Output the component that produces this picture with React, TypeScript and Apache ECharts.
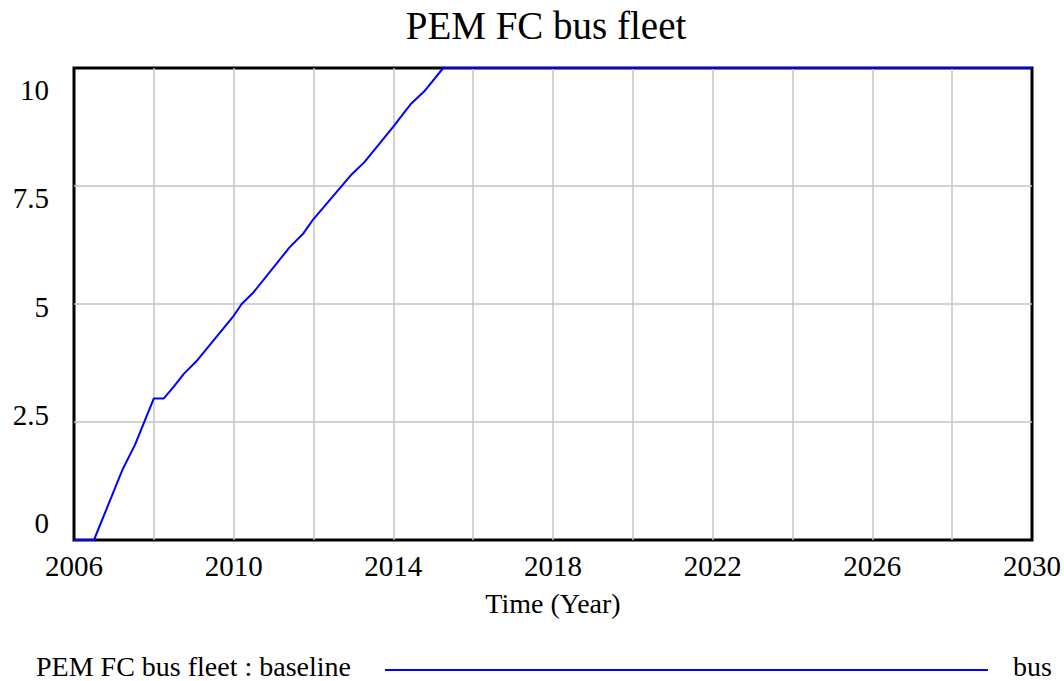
import React, { useEffect, useRef } from "react";
import * as echarts from "echarts";

const titleText = "PEM FC bus fleet";
const seriesName = "PEM FC bus fleet : baseline";
const unitText = "bus";
const xAxisName = "Time (Year)";

const years = [2006, 2006.5, 2007.22, 2007.53, 2008, 2008.25, 2008.5, 2008.75, 2009.06, 2010, 2010.2, 2010.5, 2011.4, 2011.75, 2012, 2012.96, 2013.27, 2014, 2014.45, 2014.77, 2015.25, 2030];
const fleet = [0, 0, 1.5, 2.02, 3, 3, 3.25, 3.52, 3.78, 4.75, 5, 5.25, 6.2, 6.5, 6.8, 7.75, 8, 8.76, 9.25, 9.5, 10, 10];

const yTickValues = [0, 2.5, 5, 7.5, 10];
const xLabelValues = [2006, 2010, 2014, 2018, 2022, 2026, 2030];

const FONT = "'Liberation Serif', 'Times New Roman', serif";

export default function App() {
  const ref = useRef<HTMLDivElement>(null);
  useEffect(() => {
    if (!ref.current) return;
    const chart = echarts.init(ref.current, undefined, { renderer: "svg" });
    const data = years.map((y, i) => [y, fleet[i]]);
    chart.setOption({
      animation: false,
      backgroundColor: "#ffffff",
      title: {
        text: titleText,
        left: 541,
        top: 1,
        textAlign: "center",
        textStyle: { fontFamily: FONT, fontSize: 39, fontWeight: "normal", color: "#000" },
      },
      grid: {
        left: 74,
        top: 68,
        right: 31.5,
        bottom: 141,
        show: true,
        borderColor: "#000",
        borderWidth: 3,
        backgroundColor: "transparent",
      },
      xAxis: {
        type: "value",
        min: 2006,
        max: 2030,
        interval: 2,
        name: xAxisName,
        nameLocation: "middle",
        nameGap: 49,
        nameTextStyle: { fontFamily: FONT, fontSize: 28, color: "#000" },
        axisLine: { show: false },
        axisTick: { show: false },
        splitLine: { show: true, showMinLine: false, showMaxLine: false, lineStyle: { color: "#c4c4c4", width: 1.5 } },
        axisLabel: {
          customValues: xLabelValues,
          margin: 11,
          fontFamily: FONT,
          fontSize: 29,
          color: "#000",
          formatter: (v: number) => String(v),
        },
      },
      yAxis: [
        {
          type: "value",
          min: 0,
          max: 10,
          interval: 2.5,
          axisLine: { show: false },
          axisTick: { show: false },
          axisLabel: { show: false },
          splitLine: { show: true, showMinLine: false, showMaxLine: false, lineStyle: { color: "#c4c4c4", width: 1.5 } },
        },
        {
          type: "value",
          position: "left",
          min: -0.39,
          max: 10.51,
          axisLine: { show: false },
          axisTick: { show: false },
          splitLine: { show: false },
          axisLabel: {
            customValues: yTickValues,
            margin: 25,
            fontFamily: FONT,
            fontSize: 29,
            color: "#000",
            formatter: (v: number) => String(v),
          },
        },
      ],
      series: [
        {
          name: seriesName,
          type: "line",
          data,
          yAxisIndex: 0,
          showSymbol: false,
          clip: false,
          lineStyle: { color: "#0000ff", width: 2 },
          z: 5,
        },
      ],
      graphic: [
        {
          type: "text",
          left: 36,
          top: 652,
          style: { text: seriesName, fontFamily: FONT, fontSize: 28, lineHeight: 28, fill: "#000" },
        },
        {
          type: "line",
          shape: { x1: 385, y1: 670, x2: 988, y2: 670 },
          style: { stroke: "#0000ff", lineWidth: 1.8 },
        },
        {
          type: "text",
          left: 1013,
          top: 652,
          style: { text: unitText, fontFamily: FONT, fontSize: 28, lineHeight: 28, fill: "#000" },
        },
      ],
    });
    return () => chart.dispose();
  }, []);
  return (
    <div
      ref={ref}
      style={{ position: "fixed", left: 0, top: 0, width: 1064, height: 681 }}
    />
  );
}
